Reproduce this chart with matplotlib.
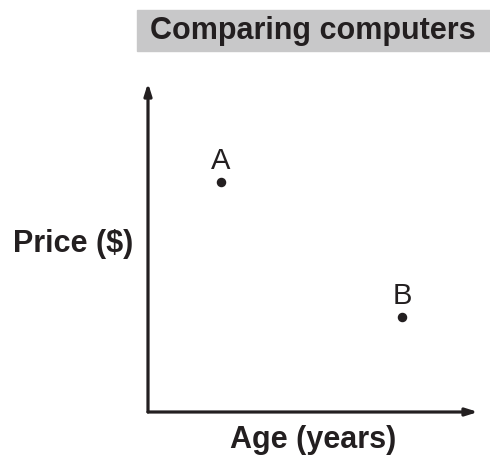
import matplotlib.pyplot as plt

plt.rcParams['font.family'] = ['Liberation Sans', 'DejaVu Sans']

labels = ['A', 'B']
age = [2.2, 7.7]
price = [7.0, 2.9]

fig = plt.figure(figsize=(4.9, 4.62), dpi=100)
W, H = 490, 462
ax = fig.add_axes([148 / W, (H - 412) / H, 330 / W, 329 / H])
ax.set_xlim(0, 10)
ax.set_ylim(0, 10)
for s in ax.spines.values():
    s.set_visible(False)
ax.set_xticks([])
ax.set_yticks([])

# axes with arrow heads
arrow = dict(arrowstyle='-|>,head_length=0.7,head_width=0.22', color='#231f20', lw=2.3,
             shrinkA=0, shrinkB=0)
ax.annotate('', xy=(0, 1), xytext=(0, 0), xycoords='axes fraction', arrowprops=arrow)
ax.annotate('', xy=(1, 0), xytext=(0, 0), xycoords='axes fraction', arrowprops=arrow)

ax.scatter(age, price, s=34, color='#231f20', zorder=3, clip_on=False)
for lab, x, y in zip(labels, age, price):
    ax.annotate(lab, (x, y), xytext=(0, 5), textcoords='offset points',
                ha='center', va='bottom', fontsize=21, color='#231f20')

fig.text(73 / W, 1 - 244 / H, 'Price ($)', ha='center', va='center',
         fontsize=22, fontweight='bold', color='#231f20')
fig.text(313 / W, 1 - 440 / H, 'Age (years)', ha='center', va='center',
         fontsize=22, fontweight='bold', color='#231f20')

# title in a grey box
fig.patches.append(plt.Rectangle((137 / W, 1 - 51 / H), (W - 137) / W, 41 / H,
                                 transform=fig.transFigure, color='#c8c8c9', zorder=0))
fig.text(313 / W, 1 - 31 / H, 'Comparing computers', ha='center', va='center',
         fontsize=22, fontweight='bold', color='#231f20')

plt.savefig('out.png', dpi=100)
